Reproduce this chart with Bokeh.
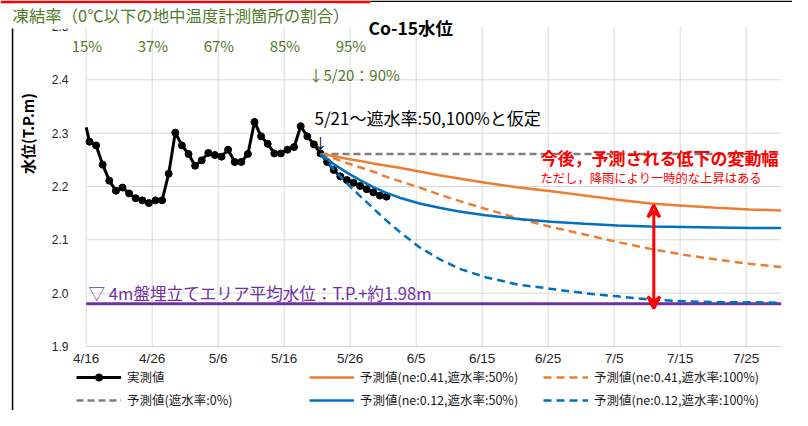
import math
import datetime as dt
from bokeh.plotting import figure
from bokeh.models import Range1d, Label, Arrow, VeeHead, Legend, LegendItem, BoxAnnotation
from bokeh.core.properties import value
from bokeh.embed import file_html
from bokeh.resources import INLINE

# ---------------- data ----------------
AXIS_START = "4/16"
PLOT_X_MAX = 105.3          # plot area ends just before 7/31
Y_MIN, Y_MAX = 1.9, 2.5

tick_dates = ["4/16", "4/26", "5/6", "5/16", "5/26", "6/5", "6/15", "6/25", "7/5", "7/15", "7/25"]
y_ticks = [1.9, 2.0, 2.1, 2.2, 2.3, 2.4, 2.5]
y_tick_labels = ["1.9", "2.0", "2.1", "2.2", "2.3", "2.4", "2.5"]

# measured water level (daily from 4/15)
measured_start = "4/15"
measured_values = [2.338, 2.284, 2.277, 2.241, 2.211, 2.192, 2.198, 2.187, 2.178, 2.174,
                   2.169, 2.174, 2.174, 2.224, 2.301, 2.277, 2.261, 2.239, 2.249, 2.263,
                   2.259, 2.256, 2.269, 2.246, 2.246, 2.261, 2.321, 2.294, 2.280, 2.262,
                   2.262, 2.269, 2.274, 2.313, 2.294, 2.279, 2.262, 2.246, 2.231, 2.219,
                   2.212, 2.207, 2.201, 2.195, 2.189, 2.183, 2.181]

pred_dates = ["5/21", "5/23", "5/25", "5/27", "5/29", "5/31", "6/2", "6/5", "6/8", "6/11",
              "6/15", "6/20", "6/25", "6/30", "7/5", "7/10", "7/15", "7/20", "7/25", "7/30"]
pred_0 = [2.261, 2.261, 2.261, 2.261, 2.261, 2.261, 2.261, 2.261, 2.261, 2.261,
          2.261, 2.261, 2.261, 2.261, 2.261, 2.261, 2.261, 2.261, 2.261, 2.261]
pred_041_50 = [2.261, 2.257, 2.252, 2.248, 2.243, 2.239, 2.235, 2.228, 2.221, 2.215,
               2.207, 2.198, 2.191, 2.183, 2.175, 2.168, 2.164, 2.160, 2.157, 2.155]
pred_041_100 = [2.261, 2.253, 2.244, 2.236, 2.228, 2.218, 2.210, 2.198, 2.185, 2.173,
                2.158, 2.140, 2.124, 2.110, 2.096, 2.083, 2.072, 2.063, 2.055, 2.049]
pred_012_50 = [2.261, 2.242, 2.226, 2.212, 2.199, 2.188, 2.179, 2.168, 2.160, 2.153,
               2.146, 2.139, 2.134, 2.130, 2.127, 2.125, 2.124, 2.123, 2.122, 2.122]
pred_012_100 = [2.261, 2.232, 2.206, 2.182, 2.159, 2.136, 2.115, 2.086, 2.064, 2.046,
                2.030, 2.016, 2.008, 2.000, 1.994, 1.988, 1.985, 1.983, 1.983, 1.982]

area_dates = ["4/15", "7/31"]
area_level = [1.98, 1.98]

freeze_dates = ["4/16", "4/26", "5/6", "5/16", "5/26"]
freeze_rates = ["15%", "37%", "67%", "85%", "95%"]

legend_labels = ["実測値", "予測値(遮水率:0%)",
                 "予測値(ne:0.41,遮水率:50%)", "予測値(ne:0.12,遮水率:50%)",
                 "予測値(ne:0.41,遮水率:100%)", "予測値(ne:0.12,遮水率:100%)"]


def day(md):
    m, d = map(int, md.split("/"))
    a_m, a_d = map(int, AXIS_START.split("/"))
    return (dt.date(2016, m, d) - dt.date(2016, a_m, a_d)).days


def xs(dates):
    # Excel date axis: a point sits in the middle of its day slot
    return [day(d) + 0.5 for d in dates]


def clip_x(x, y, lo, hi):
    """clip a polyline (increasing x) to the plot area lo <= x <= hi"""
    ox, oy = [], []
    for i in range(len(x) - 1):
        x0, y0, x1, y1 = x[i], y[i], x[i + 1], y[i + 1]
        if x1 < lo or x0 > hi:
            continue
        a, b = max(x0, lo), min(x1, hi)
        ya = y0 + (a - x0) * (y1 - y0) / (x1 - x0)
        yb = y0 + (b - x0) * (y1 - y0) / (x1 - x0)
        if not ox or ox[-1] != a:
            ox.append(a); oy.append(ya)
        ox.append(b); oy.append(yb)
    return ox, oy


m0 = dt.date(2016, *map(int, measured_start.split("/")))
measured_dates = [f"{(m0 + dt.timedelta(i)).month}/{(m0 + dt.timedelta(i)).day}"
                  for i in range(len(measured_values))]

# ---------------- pixel layout helpers ----------------
W, H = 792, 410
X0_PX, PX_PER_DAY = 85.7, 6.6        # 4/16 at x=85.7 px
YTOP_PX, PX_PER_UNIT = 26.0, 533.33  # 2.5 at y=26 px


def px(xp):
    return (xp - X0_PX) / PX_PER_DAY


def py(yp):
    return Y_MAX - (yp - YTOP_PX) / PX_PER_UNIT


JP = "Noto Sans CJK JP"
GREEN = "#4F7A28"
ORANGE = "#ED7D31"
BLUE = "#0070C0"
GRAY = "#7F7F7F"
PURPLE = "#7030A0"
GRID = "#D9D9D9"

p = figure(width=W, height=H, x_range=Range1d(px(0), px(W)), y_range=Range1d(py(H), py(0)),
           output_backend="svg", toolbar_location=None, x_axis_type=None, y_axis_type=None,
           min_border=0)
p.min_border_left = p.min_border_right = p.min_border_top = p.min_border_bottom = 0
p.outline_line_color = None
p.background_fill_color = "white"
p.border_fill_color = "white"

# ---------------- axes & grid (drawn inside the canvas) ----------------
tick_days = [day(d) for d in tick_dates]
p.segment(x0=tick_days, y0=Y_MIN, x1=tick_days, y1=Y_MAX, line_color=GRID, line_width=1)
grid_y = [v for v in y_ticks if v < Y_MAX]
p.segment(x0=0, y0=grid_y, x1=PLOT_X_MAX, y1=grid_y, line_color=GRID, line_width=1)
p.text(x=tick_days, y=py(358), text=tick_dates, text_font=value("Liberation Sans"),
       text_font_size="13.5px", text_color="#262626", text_align="center", text_baseline="middle")
p.text(x=px(68), y=y_ticks, text=y_tick_labels, text_font=value("Liberation Sans"),
       text_font_size="12px", text_color="#262626", text_align="right", text_baseline="middle")

# ---------------- series ----------------
ax, ay = clip_x(xs(area_dates), area_level, 0, PLOT_X_MAX)
area = p.line(ax, ay, line_color=PURPLE, line_width=3)
gx, gy = clip_x(xs(pred_dates), pred_0, 0, PLOT_X_MAX)
g0 = p.line(gx, gy, line_color=GRAY, line_width=2.5, line_dash="7 4")
mx, my = clip_x(xs(measured_dates), measured_values, 0, PLOT_X_MAX)
mline = p.line(mx, my, line_color="black", line_width=3)
mpx = [x for x in xs(measured_dates) if 0 <= x <= PLOT_X_MAX]
mpy = [v for x, v in zip(xs(measured_dates), measured_values) if 0 <= x <= PLOT_X_MAX]
mpts = p.scatter(mpx, mpy, size=7, marker="circle", fill_color="black", line_color="black")
ox, oy = clip_x(xs(pred_dates), pred_041_50, 0, PLOT_X_MAX)
o50 = p.line(ox, oy, line_color=ORANGE, line_width=2.5)
ox, oy = clip_x(xs(pred_dates), pred_041_100, 0, PLOT_X_MAX)
o100 = p.line(ox, oy, line_color=ORANGE, line_width=2.5, line_dash="8 5")
bx, by = clip_x(xs(pred_dates), pred_012_50, 0, PLOT_X_MAX)
b50 = p.line(bx, by, line_color=BLUE, line_width=2.5)
bx, by = clip_x(xs(pred_dates), pred_012_100, 0, PLOT_X_MAX)
b100 = p.line(bx, by, line_color=BLUE, line_width=2.5, line_dash="8 5")

# ---------------- legends ----------------
groups = [([mline, mpts], [g0], 76), ([o50], [b50], 309), ([o100], [b100], 543)]
for i, (r1, r2, lx) in enumerate(groups):
    leg = Legend(items=[LegendItem(label=legend_labels[2 * i], renderers=r1),
                        LegendItem(label=legend_labels[2 * i + 1], renderers=r2)],
                 location=(lx, 1), orientation="vertical",
                 padding=0, margin=0, spacing=4, glyph_width=45, glyph_height=18,
                 label_height=18, label_standoff=6,
                 label_text_font=JP, label_text_font_size="12.5px", label_text_color="#1a1a1a",
                 background_fill_alpha=0, border_line_alpha=0)
    p.add_layout(leg, "center")

# ---------------- decorations & annotations ----------------
p.add_layout(BoxAnnotation(left=px(0), right=px(370), top=py(0), bottom=py(2.7),
                           fill_color="#FF0000", fill_alpha=1, line_alpha=0))
p.add_layout(BoxAnnotation(left=px(370), right=px(W), top=py(0), bottom=py(1.5),
                           fill_color="black", fill_alpha=1, line_alpha=0))
# white title box hiding the top of the axis
p.add_layout(BoxAnnotation(left=px(14), right=px(337), top=py(3), bottom=py(28),
                           fill_color="white", fill_alpha=1, line_alpha=0))
# slide frame line on the left
p.add_layout(BoxAnnotation(left=px(11.3), right=px(12.8), top=py(28), bottom=py(H + 5),
                           fill_color="black", fill_alpha=1, line_alpha=0))

p.add_layout(Label(x=px(12), y=py(14), text="凍結率（0℃以下の地中温度計測箇所の割合）",
                   text_font=JP, text_font_size="16.4px", text_color=GREEN,
                   text_baseline="middle", text_align="left"))
p.add_layout(Label(x=px(368), y=py(27), text="Co-15水位", text_font=JP, text_font_size="17.5px",
                   text_font_style="bold", text_color="black", text_baseline="middle"))
p.add_layout(Label(x=px(27), y=py(133), text="水位(T.P.m)", angle=math.pi / 2,
                   text_font=JP, text_font_size="15px", text_font_style="bold",
                   text_color="black", text_baseline="middle", text_align="center"))
for d, r in zip(freeze_dates, freeze_rates):
    p.add_layout(Label(x=day(d) + 0.1, y=py(45), text=r, text_font=JP, text_font_size="15px",
                       text_color=GREEN, text_baseline="middle", text_align="center"))
p.add_layout(Label(x=px(308), y=py(74), text="↓5/20：90%", text_font=JP,
                   text_font_size="15px", text_color=GREEN, text_baseline="middle"))
p.add_layout(Label(x=px(314), y=py(117), text="5/21～遮水率:50,100%と仮定", text_font=JP,
                   text_font_size="17px", text_color="black", text_baseline="middle"))
p.add_layout(Label(x=day("5/21") + 0.5, y=py(141), text="↓", text_font=JP,
                   text_font_size="14px", text_color="black", text_baseline="middle",
                   text_align="center"))
p.add_layout(Label(x=px(540), y=py(157), text="今後，予測される低下の変動幅", text_font=JP,
                   text_font_size="17px", text_font_style="bold", text_color="#FF0000",
                   text_baseline="middle"))
p.add_layout(Label(x=px(540), y=py(177), text="ただし，降雨により一時的な上昇はある", text_font=JP,
                   text_font_size="12.3px", text_color="#FF0000", text_baseline="middle"))
p.add_layout(Label(x=px(88), y=py(292), text="▽ 4m盤埋立てエリア平均水位：T.P.+約1.98m", text_font=JP,
                   text_font_size="16.6px", text_color=PURPLE, text_baseline="middle"))

arrow_day = day("7/11")
p.add_layout(Arrow(start=VeeHead(size=12, line_color="#FF0000", line_width=3, fill_alpha=0),
                   end=VeeHead(size=12, line_color="#FF0000", line_width=3, fill_alpha=0),
                   x_start=arrow_day, y_start=area_level[0] - 0.009,
                   x_end=arrow_day, y_end=2.165, line_color="#FF0000", line_width=3))

open("out.html", "w").write(file_html(p, INLINE))
